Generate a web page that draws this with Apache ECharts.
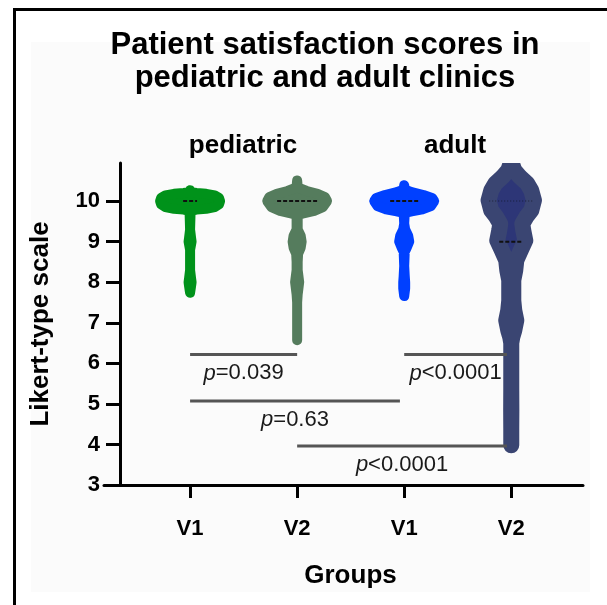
<!DOCTYPE html>
<html><head><meta charset="utf-8">
<script src="https://cdn.jsdelivr.net/npm/echarts@6/dist/echarts.min.js"></script>
<style>
html,body{margin:0;padding:0;background:#fff;}
#frame{position:absolute;left:13px;top:8px;width:600px;height:600px;border-left:3px solid #000;border-top:3px solid #000;}
#panel{position:absolute;left:31px;top:42px;width:559px;height:550px;background:#fbfbfb;}
#chart{position:absolute;left:0;top:0;width:607px;height:605px;}
</style></head><body>
<div id="frame"></div><div id="panel"></div><div id="chart"></div>
<script>
// ---- data ----
const categories = ['V1', 'V2', 'V1', 'V2'];
const groupNames = ['pediatric', 'adult'];
const yTicks = [3, 4, 5, 6, 7, 8, 9, 10];
// violin profiles: [score, half density width in category units]
const pediatricV1 = [[7.74,0],[7.9,0.009],[8.0,0.014],[8.1,0.009],[8.3,0],[8.8,0],[9.0,0.014],[9.1,0.009],[9.3,0],[9.76,0.005],[9.79,0.06],[9.81,0.15],[9.85,0.23],[9.92,0.27],[10.0,0.28],[10.08,0.27],[10.14,0.23],[10.18,0.15],[10.2,0.06],[10.22,0.005],[10.27,0]];
const pediatricV2 = [[6.57,0],[7.5,0],[7.7,0.005],[8.0,0.019],[8.3,0.005],[8.5,0.005],[8.7,0.009],[8.85,0.033],[9.0,0.042],[9.15,0.033],[9.3,0.005],[9.65,0.005],[9.7,0.06],[9.76,0.16],[9.85,0.24],[10.0,0.28],[10.1,0.26],[10.18,0.19],[10.25,0.09],[10.31,0.03],[10.36,0.005],[10.51,0]];
const adultV1 = [[7.66,0],[7.85,0.009],[8.0,0.009],[8.15,0.005],[8.4,0],[8.75,0.005],[8.85,0.023],[9.0,0.047],[9.15,0.037],[9.3,0.009],[9.45,0],[9.71,0.005],[9.75,0.07],[9.8,0.17],[9.88,0.25],[10.0,0.28],[10.08,0.26],[10.15,0.18],[10.22,0.07],[10.27,0.02],[10.31,0.005],[10.39,0]];
const adultV2 = [[3.98,0],[4.4,0],[4.85,0.001],[5.4,0],[6.5,0],[6.65,0.01],[6.81,0.028],[7.06,0.047],[7.31,0.028],[7.55,0.019],[7.8,0.019],[8.05,0.019],[8.29,0.037],[8.54,0.047],[8.79,0.089],[9.03,0.131],[9.28,0.112],[9.44,0.103],[9.61,0.140],[9.77,0.187],[10.02,0.212],[10.26,0.187],[10.43,0.150],[10.59,0.084],[10.76,0.028],[10.94,0.005],[11.1,0]];
// median lines: [category index, median, half length]
const medianLines = [[0,10,0.065],[1,10,0.187],[2,10,0.131],[3,9,0.112]];
const quartileLines = [[3,10,0.206]];
// significance bars: from, to, y, p text
const sigFrom = [0, 2, 0, 1];
const sigTo = [1, 2.96, 1.96, 2.96];
const sigY = [6.22, 6.22, 5.07, 3.96];
const sigP = ['=0.039', '<0.0001', '=0.63', '<0.0001'];

const violins = [pediatricV1, pediatricV2, adultV1, adultV2];
const strokeColors = ['#00921a', '#557c5d', '#0040ff', '#3a4572'];
const fillColors = ['#00921a', '#557c5d', '#0040ff', '#2d3677'];
const strokeWidths = [10, 10, 10, 16];

const FONT = 'Liberation Sans, Arial, Helvetica, sans-serif';
const chart = echarts.init(document.getElementById('chart'));

const series = violins.map((prof, i) => ({
  type: 'custom',
  clip: true,
  data: [[i, 10]],
  encode: { x: 0, y: 1 },
  renderItem(params, api) {
    const c = api.value(0);
    const right = prof.map(p => api.coord([c + p[1], p[0]]));
    const left = prof.slice().reverse().map(p => api.coord([c - p[1], p[0]]));
    return {
      type: 'polygon',
      shape: { points: right.concat(left) },
      style: { fill: fillColors[i], stroke: strokeColors[i], lineWidth: strokeWidths[i], lineJoin: 'round' }
    };
  },
  z: 2
}));

series.push({
  type: 'custom',
  data: medianLines,
  encode: { x: 0, y: 1 },
  renderItem(params, api) {
    const c = api.value(0), v = api.value(1), h = api.value(2);
    const a = api.coord([c - h, v]), b = api.coord([c + h, v]);
    return { type: 'line', shape: { x1: a[0], y1: a[1], x2: b[0], y2: b[1] },
      style: { stroke: '#111', lineWidth: 2, lineDash: [4, 2] } };
  },
  z: 3
});
series.push({
  type: 'custom',
  data: quartileLines,
  encode: { x: 0, y: 1 },
  renderItem(params, api) {
    const c = api.value(0), v = api.value(1), h = api.value(2);
    const a = api.coord([c - h, v]), b = api.coord([c + h, v]);
    return { type: 'line', shape: { x1: a[0], y1: a[1], x2: b[0], y2: b[1] },
      style: { stroke: 'rgba(0,0,0,0.35)', lineWidth: 1.5, lineDash: [1, 2] } };
  },
  z: 3
});
series.push({
  type: 'custom',
  data: sigFrom.map((f, i) => [f, sigY[i], sigTo[i], i]),
  encode: { x: 0, y: 1 },
  renderItem(params, api) {
    const f = api.value(0), y = api.value(1), t = api.value(2), idx = api.value(3);
    const a = api.coord([f, y]), b = api.coord([t, y]);
    return { type: 'group', children: [
      { type: 'line', shape: { x1: a[0], y1: a[1], x2: b[0], y2: b[1] },
        style: { stroke: '#555', lineWidth: 3 } },
      { type: 'text', x: (a[0] + b[0]) / 2, y: a[1] + 19,
        style: { text: '{i|p}{n|' + sigP[idx] + '}', align: 'center', verticalAlign: 'middle',
          rich: { i: { fontStyle: 'italic', fontSize: 22, fontFamily: FONT, fill: '#1a1a1a' },
                  n: { fontSize: 22, fontFamily: FONT, fill: '#1a1a1a' } } } }
    ] };
  },
  z: 4
});

chart.setOption({
  animation: false,
  backgroundColor: 'transparent',
  title: [
    { text: 'Patient satisfaction scores in\npediatric and adult clinics', left: 320, top: 24, textAlign: 'center',
      textStyle: { fontFamily: FONT, fontSize: 31, fontWeight: 'bold', color: '#000', lineHeight: 33 } },
    { text: groupNames[0], left: 238, top: 128, textAlign: 'center',
      textStyle: { fontFamily: FONT, fontSize: 26, fontWeight: 'bold', color: '#000' } },
    { text: groupNames[1], left: 450, top: 128, textAlign: 'center',
      textStyle: { fontFamily: FONT, fontSize: 26, fontWeight: 'bold', color: '#000' } }
  ],
  grid: { left: 104, right: 24, top: 163, bottom: 120, containLabel: false },
  xAxis: {
    type: 'value', min: -0.804, max: 3.67,
    name: 'Groups', nameLocation: 'middle', nameGap: 78,
    nameTextStyle: { fontFamily: FONT, fontSize: 26, fontWeight: 'bold', color: '#000', padding: [0, 0, 0, 14] },
    axisLine: { onZero: false, lineStyle: { color: '#000', width: 3 } },
    axisTick: { show: true, customValues: [0, 1, 2, 3], length: 13, lineStyle: { color: '#000', width: 3 } },
    axisLabel: { customValues: [0, 1, 2, 3], formatter: v => categories[Math.round(v)], margin: 33,
      fontFamily: FONT, fontSize: 22, fontWeight: 'bold', color: '#000' },
    splitLine: { show: false }
  },
  yAxis: {
    type: 'value', min: 3, max: 10.94, offset: -16,
    name: 'Likert-type scale', nameLocation: 'middle', nameGap: 66,
    nameTextStyle: { fontFamily: FONT, fontSize: 26, fontWeight: 'bold', color: '#000' },
    axisLine: { show: true, onZero: false, lineStyle: { color: '#000', width: 3 } },
    axisTick: { show: true, customValues: yTicks, length: 14, lineStyle: { color: '#000', width: 3 } },
    axisLabel: { customValues: yTicks, margin: 20, fontFamily: FONT, fontSize: 22, fontWeight: 'bold', color: '#000' },
    splitLine: { show: false }
  },
  series: series
});
</script>
</body></html>
